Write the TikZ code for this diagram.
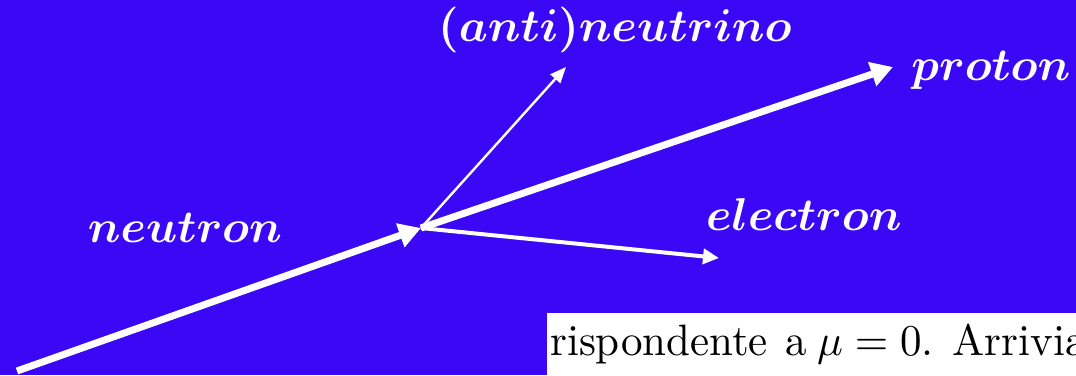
\documentclass[tikz,border=0pt]{standalone}
\usetikzlibrary{arrows.meta}
\definecolor{slideblue}{RGB}{58,8,245}
\tikzset{
  particle/.style={text=white, inner sep=0pt},
  heavytrack/.style={white, line width=7pt, -{Triangle[length=22pt,width=24pt]}},
  lighttrack/.style={white, line width=4pt, -{Triangle[length=16pt,width=15pt]}},
  thintrack/.style={white, line width=2.4pt, -{Triangle[length=16pt,width=13pt]}},
  pagetext/.style={anchor=base west, inner sep=0pt}
}
\newcommand{\particlename}[1]{\scalebox{4.6}{\boldmath$#1$}}
\newcommand{\pagescale}[1]{\scalebox{4.3}[4.4]{#1}}

\begin{document}
\begin{tikzpicture}[x=1pt,y=-1pt]

  % =======================
  % Background
  % =======================
  \useasboundingbox (0,0) rectangle (1076,375);
  \fill[slideblue] (0,0) rectangle (1076,375);

  % =======================
  % Decay vertex and tracks
  % =======================
  \coordinate (start) at (17,371);
  \coordinate (vertex) at (421,228);
  \coordinate (ptip) at (893,67);
  \coordinate (ntip) at (566,67);
  \coordinate (etip) at (719,258);

  \draw[heavytrack] (start) -- (vertex);
  \draw[heavytrack] (vertex) -- (ptip);
  \draw[thintrack] (vertex) -- (ntip);
  \draw[lighttrack] (vertex) -- (etip);

  % =======================
  % Labels
  % =======================
  \node[particle] (neutron) at (185,228) {\particlename{neutron}};
  \node[particle] (antinu) at (615,30) {\particlename{(anti)neutrino}};
  \node[particle] (proton) at (991,70) {\particlename{proton}};
  \node[particle] (electron) at (804,215) {\particlename{electron}};

  % =======================
  % Page snippet (clipped)
  % =======================
  \fill[white] (547,313) rectangle (1076,375);
  \begin{scope}
    \clip (547,313) rectangle (1076,375);
    \node[pagetext] (snippet) at (550,355)
      {\pagescale{rispondente\hspace{4pt}a\hspace{2.4pt}$\mu=0$.\hspace{4.4pt}Arrivia}};
  \end{scope}

\end{tikzpicture}
\end{document}
